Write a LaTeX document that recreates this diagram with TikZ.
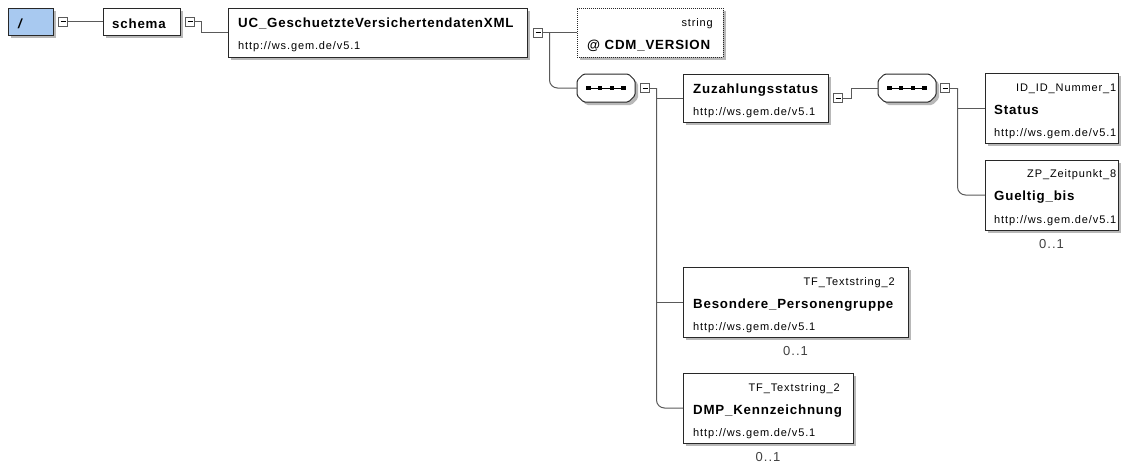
\documentclass[tikz,border=0pt]{standalone}
\usepackage{fontspec}
\setmainfont{Liberation Sans}
\newfontfamily\namefont[LetterSpace=6]{Liberation Sans}
\newfontfamily\notefont[LetterSpace=8]{Liberation Sans}
\usetikzlibrary{calc}

\definecolor{rootblue}{RGB}{168,201,240}
\definecolor{framegray}{RGB}{40,40,40}
\definecolor{linegray}{RGB}{90,90,90}

\tikzset{
  shadowed/.style={preaction={draw=none, fill=black!28, transform canvas={shift={(3pt,-3pt)}}}},
  elembox/.style={shadowed, draw=framegray, line width=1pt, fill=white, inner sep=0pt,
    outer sep=0pt, anchor=north west},
  attrbox/.style={elembox, dash pattern=on 1pt off 1pt},
  rootbox/.style={elembox, fill=rootblue},
  expander/.style={draw=linegray, line width=0.9pt, fill=white, inner sep=0pt, outer sep=0pt,
    minimum size=9pt,
    path picture={\draw[black, line width=0.9pt]
      ([xshift=2pt]path picture bounding box.west) -- ([xshift=-2pt]path picture bounding box.east);}},
  sequence/.style={rectangle, inner sep=0pt, outer sep=0pt, minimum width=58pt, minimum height=28pt},
  seqframe/.style={draw=framegray, line width=1pt, fill=white, rounded corners=1.5pt},
  seqshadow/.style={fill=black!28, rounded corners=1.5pt, transform canvas={shift={(3pt,-3pt)}}},
  conn/.style={draw=linegray, line width=1pt},
  nametext/.style={font=\namefont\bfseries\fontsize{13.3}{16}\selectfont, inner sep=0pt, anchor=base west},
  urltext/.style={font=\notefont\fontsize{11}{13}\selectfont, inner sep=0pt, anchor=base west},
  typetext/.style={font=\notefont\fontsize{11}{13}\selectfont, inner sep=0pt, anchor=base east},
  cardtext/.style={font=\notefont\fontsize{13}{15}\selectfont, text=black!75, inner sep=0pt, anchor=base},
}

% octagonal outline of a sequence compositor, with its shadow and dotted bar
\newcommand\seqoutline[2]{%
  \path[#2] ([xshift=6.5pt]#1.north west) -- ([xshift=-6.5pt]#1.north east)
    -- ([yshift=-6.5pt]#1.north east) -- ([yshift=6.5pt]#1.south east)
    -- ([xshift=-6.5pt]#1.south east) -- ([xshift=6.5pt]#1.south west)
    -- ([yshift=6.5pt]#1.south west) -- ([yshift=-6.5pt]#1.north west) -- cycle;}
\newcommand\seqdraw[1]{%
  \seqoutline{#1}{seqshadow}%
  \seqoutline{#1}{seqframe}%
  \draw[black, line width=1pt] ([xshift=-17.5pt]#1.center) -- ([xshift=17.5pt]#1.center);
  \foreach \d in {-17.5,-5.8,5.8,17.5}
    \fill[black] ([xshift=\d pt]#1.center) +(-2.2pt,-2.2pt) rectangle +(2.2pt,2.2pt);}

\begin{document}
\begin{tikzpicture}[x=1pt, y=-1pt]
\useasboundingbox (0,0) rectangle (1125,467);

% element boxes
\node[rootbox, minimum width=45pt, minimum height=27pt] (root) at (8,8) {};
\node[elembox, minimum width=77pt, minimum height=27pt] (schema) at (103,8) {};
\node[elembox, minimum width=299pt, minimum height=49pt] (uc) at (228,8) {};
\node[attrbox, minimum width=146pt, minimum height=49pt] (cdm) at (577,8) {};
\node[elembox, minimum width=145pt, minimum height=48pt] (zu) at (683,74) {};
\node[elembox, minimum width=133pt, minimum height=70pt] (status) at (985,73) {};
\node[elembox, minimum width=133pt, minimum height=70pt] (gueltig) at (985,160) {};
\node[elembox, minimum width=225pt, minimum height=70pt] (besondere) at (683,267) {};
\node[elembox, minimum width=170pt, minimum height=70pt] (dmp) at (683,373) {};

% sequence compositors
\node[sequence] (seqA) at (606,88) {};
\node[sequence] (seqB) at (907,88) {};
\seqdraw{seqA}
\seqdraw{seqB}

% collapse toggles
\node[expander] (rootx) at (63,21.5) {};
\node[expander] (schemax) at (190,21.5) {};
\node[expander] (ucx) at (538,32.5) {};
\node[expander] (seqAx) at (645,88) {};
\node[expander] (zux) at (838,98) {};
\node[expander] (seqBx) at (945,88) {};

% labels
\node[nametext, font=\namefont\bfseries\itshape\fontsize{13.3}{16}\selectfont] (root-name)
  at ([shift={(10pt,-20pt)}]root.north west) {/};
\node[nametext] (schema-name) at ([shift={(9pt,-20pt)}]schema.north west) {schema};

\node[nametext] (uc-name) at ([shift={(10pt,-19pt)}]uc.north west) {UC\_GeschuetzteVersichertendatenXML};
\node[urltext] (uc-ns) at ([shift={(10pt,-41pt)}]uc.north west) {http://ws.gem.de/v5.1};

\node[typetext] (cdm-type) at ([shift={(-10pt,-18pt)}]cdm.north east) {string};
\node[nametext] (cdm-name) at ([shift={(10pt,-41pt)}]cdm.north west) {@ CDM\_VERSION};

\node[nametext] (zu-name) at ([shift={(10pt,-19pt)}]zu.north west) {Zuzahlungsstatus};
\node[urltext] (zu-ns) at ([shift={(10pt,-41pt)}]zu.north west) {http://ws.gem.de/v5.1};

\node[typetext] (status-type) at ([shift={(-1.5pt,-18.5pt)}]status.north east) {ID\_ID\_Nummer\_1};
\node[nametext] (status-name) at ([shift={(9pt,-41pt)}]status.north west) {Status};
\node[urltext] (status-ns) at ([shift={(9pt,-63pt)}]status.north west) {http://ws.gem.de/v5.1};

\node[typetext] (gueltig-type) at ([shift={(-1.5pt,-17.5pt)}]gueltig.north east) {ZP\_Zeitpunkt\_8};
\node[nametext] (gueltig-name) at ([shift={(9pt,-40pt)}]gueltig.north west) {Gueltig\_bis};
\node[urltext] (gueltig-ns) at ([shift={(9pt,-63pt)}]gueltig.north west) {http://ws.gem.de/v5.1};
\node[cardtext] (gueltig-card) at ([yshift=-18pt]gueltig.south) {0..1};

\node[typetext] (besondere-type) at ([shift={(-13pt,-18pt)}]besondere.north east) {TF\_Textstring\_2};
\node[nametext] (besondere-name) at ([shift={(10pt,-41pt)}]besondere.north west) {Besondere\_Personengruppe};
\node[urltext] (besondere-ns) at ([shift={(10pt,-63pt)}]besondere.north west) {http://ws.gem.de/v5.1};
\node[cardtext] (besondere-card) at ([yshift=-18pt]besondere.south) {0..1};

\node[typetext] (dmp-type) at ([shift={(-13pt,-18pt)}]dmp.north east) {TF\_Textstring\_2};
\node[nametext] (dmp-name) at ([shift={(10pt,-41pt)}]dmp.north west) {DMP\_Kennzeichnung};
\node[urltext] (dmp-ns) at ([shift={(10pt,-63pt)}]dmp.north west) {http://ws.gem.de/v5.1};
\node[cardtext] (dmp-card) at ([yshift=-18pt]dmp.south) {0..1};

% connectors
\draw[conn] (rootx.east) -- (schema.west);
\draw[conn] (schemax.east) -- ++(7pt,0pt) |- (uc.west);
\draw[conn] (ucx.east) -- (cdm.west);
\draw[conn, rounded corners=8pt] ([xshift=7pt]ucx.east) |- (seqA.west);
\draw[conn] (seqAx.east) -- ++(7pt,0pt) |- (zu.west);
\draw[conn] ([xshift=7pt]seqAx.east) |- (besondere.west);
\draw[conn, rounded corners=8pt] ([xshift=7pt]seqAx.east) |- (dmp.west);
\draw[conn] (zux.east) -- ++(9pt,0pt) |- (seqB.west);
\draw[conn] (seqBx.east) -- ++(8pt,0pt) |- (status.west);
\draw[conn, rounded corners=8pt] ([xshift=8pt]seqBx.east) |- (gueltig.west);
\end{tikzpicture}
\end{document}
